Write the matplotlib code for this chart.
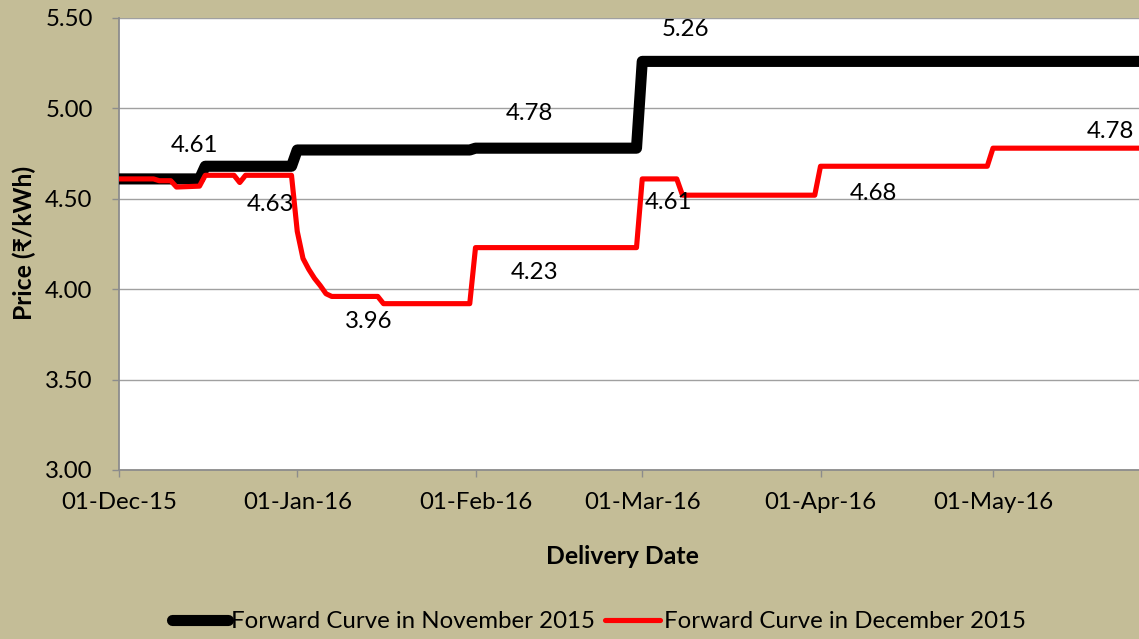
import matplotlib
matplotlib.use("Agg")
import matplotlib.pyplot as plt
import matplotlib.dates as mdates
import pandas as pd
from matplotlib.lines import Line2D

# ---------------- data ----------------
nov_dates = ["2015-12-01", "2015-12-15", "2015-12-16", "2015-12-31", "2016-01-01",
             "2016-01-31", "2016-02-01", "2016-02-29", "2016-03-01", "2016-05-31"]
nov_values = [4.61, 4.61, 4.68, 4.68, 4.77, 4.77, 4.78, 4.78, 5.26, 5.26]

dec_dates = ["2015-12-01", "2015-12-07", "2015-12-08", "2015-12-10", "2015-12-11",
             "2015-12-15", "2015-12-16", "2015-12-21", "2015-12-22", "2015-12-23",
             "2015-12-31", "2016-01-01", "2016-01-02", "2016-01-03", "2016-01-04",
             "2016-01-05", "2016-01-06", "2016-01-07", "2016-01-15", "2016-01-16",
             "2016-01-31", "2016-02-01", "2016-02-29", "2016-03-01", "2016-03-07",
             "2016-03-08", "2016-03-31", "2016-04-01", "2016-04-30", "2016-05-01",
             "2016-05-31"]
dec_values = [4.61, 4.61, 4.60, 4.60, 4.565,
              4.57, 4.63, 4.63, 4.59, 4.63,
              4.63, 4.32, 4.17, 4.11, 4.06,
              4.02, 3.975, 3.96, 3.96, 3.92,
              3.92, 4.23, 4.23, 4.61, 4.61,
              4.52, 4.52, 4.68, 4.68, 4.78,
              4.78]

series_names = ["Forward Curve in November 2015", "Forward Curve in December 2015"]

# data labels: (series index, anchor date, anchor value, text)
labels = [
    (0, "2015-12-14", 4.61, "4.61"),
    (0, "2016-02-10", 4.78, "4.78"),
    (0, "2016-03-08", 5.26, "5.26"),
    (1, "2015-12-27", 4.63, "4.63"),
    (1, "2016-01-13", 3.96, "3.96"),
    (1, "2016-02-11", 4.23, "4.23"),
    (1, "2016-03-05", 4.61, "4.61"),
    (1, "2016-04-10", 4.68, "4.68"),
    (1, "2016-05-21", 4.78, "4.78"),
]
# label offsets in pixels (dx, dy), positive dy = up
label_offsets = [(1, 33), (2, 35), (3, 32), (2, -29), (2, -25), (2, -25), (3, -24), (1, -27), (2, 17)]

y_ticks = [3.00, 3.50, 4.00, 4.50, 5.00, 5.50]
x_ticks = ["2015-12-01", "2016-01-01", "2016-02-01", "2016-03-01", "2016-04-01", "2016-05-01"]

# ---------------- style ----------------
BG = "#C4BD97"
FONT = ["Lato", "Noto Sans", "DejaVu Sans"]
plt.rcParams["font.family"] = FONT
FS = 17.3
FSB = 17.8

W, H = 1139, 639
fig = plt.figure(figsize=(W / 100, H / 100), dpi=100, facecolor=BG)

left_px, right_px, top_px, bottom_px = 119, 1165.5, 18, 470
ax = fig.add_axes([left_px / W, 1 - bottom_px / H, (right_px - left_px) / W, (bottom_px - top_px) / H])
ax.set_facecolor("white")

nd = pd.to_datetime(nov_dates)
ddts = pd.to_datetime(dec_dates)

ax.plot(nd, nov_values, color="black", lw=8.0, solid_joinstyle="round",
        solid_capstyle="butt", zorder=3)
ax.plot(ddts, dec_values, color="#FF0000", lw=3.7, solid_joinstyle="round",
        solid_capstyle="round", zorder=4)

ax.set_xlim(pd.Timestamp("2015-12-01"), pd.Timestamp("2016-05-31"))
ax.set_ylim(3.0, 5.5)
ax.set_yticks(y_ticks)
ax.set_yticklabels([f"{v:.2f}" for v in y_ticks])
ax.set_xticks(pd.to_datetime(x_ticks))
ax.xaxis.set_major_formatter(mdates.DateFormatter("%d-%b-%y"))

ax.grid(axis="y", color="#A0A0A0", lw=1.0, zorder=1)
ax.grid(axis="x", visible=False)
for s in ["top", "right"]:
    ax.spines[s].set_visible(False)
for s in ["left", "bottom"]:
    ax.spines[s].set_color("#8C8C8C")
    ax.spines[s].set_linewidth(1.3)

ax.tick_params(axis="y", length=5, width=1, color="#8C8C8C", pad=14, labelsize=FS)
ax.tick_params(axis="x", length=5, width=1, color="#8C8C8C", pad=11, labelsize=FS)

for (si, d, v, t), (dx, dy) in zip(labels, label_offsets):
    ax.annotate(t, xy=(pd.Timestamp(d), v), xytext=(dx, dy), textcoords="offset pixels",
                ha="center", va="center", fontsize=FS, color="black", zorder=5)

fig.text(622 / W, 1 - 556 / H, "Delivery Date", ha="center", va="center",
         fontsize=FSB, fontweight="bold", family=FONT)
fig.text(24 / W, 1 - 243 / H, "Price (₹/kWh)", ha="center", va="center",
         rotation=90, fontsize=FSB, fontweight="bold", family=FONT)

handles = [Line2D([], [], color="black", lw=8.0, solid_capstyle="round"),
           Line2D([], [], color="#FF0000", lw=3.7, solid_capstyle="round")]
fig.legend(handles, series_names, loc="center", bbox_to_anchor=(599 / W, 1 - 622 / H),
           ncol=2, frameon=False, fontsize=FS, handlelength=2.3, handletextpad=0.15,
           columnspacing=0.4, borderpad=0, borderaxespad=0)

fig.savefig("out.png", dpi=100, facecolor=BG)
